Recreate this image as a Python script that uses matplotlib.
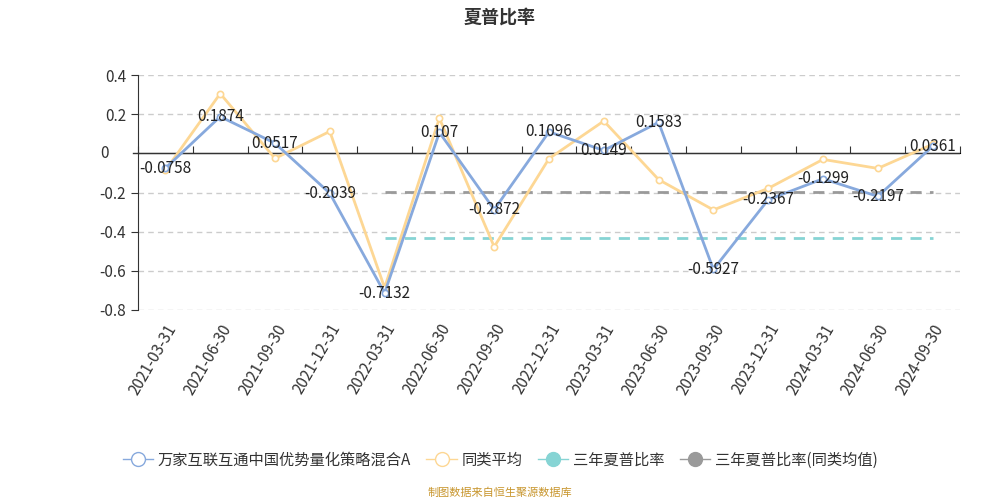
import matplotlib
matplotlib.use('Agg')
import matplotlib.pyplot as plt
from matplotlib.lines import Line2D

plt.rcParams['font.family'] = ['Noto Sans CJK SC', 'DejaVu Sans']
plt.rcParams['axes.unicode_minus'] = False

dates = ['2021-03-31', '2021-06-30', '2021-09-30', '2021-12-31', '2022-03-31',
         '2022-06-30', '2022-09-30', '2022-12-31', '2023-03-31', '2023-06-30',
         '2023-09-30', '2023-12-31', '2024-03-31', '2024-06-30', '2024-09-30']
fund = [-0.0758, 0.1874, 0.0517, -0.2039, -0.7132, 0.107, -0.2872, 0.1096,
        0.0149, 0.1583, -0.5927, -0.2367, -0.1299, -0.2197, 0.0361]
peer_avg = [-0.087, 0.305, -0.026, 0.112, -0.686, 0.179, -0.477, -0.027,
            0.165, -0.134, -0.289, -0.179, -0.031, -0.077, 0.046]
sharpe_3y = -0.432
sharpe_3y_peer = -0.196
ref_start = 4  # 2022-03-31

blue = '#87a9dd'
yellow = '#fdd794'
cyan = '#86d4d4'
gray = '#9a9a9a'

fig = plt.figure(figsize=(10, 5), dpi=100)
ax = fig.add_axes([0.138, 0.38, 0.822, 0.47])

x = list(range(len(dates)))
ax.plot(x, peer_avg, color=yellow, lw=2, marker='o', ms=4.5,
        mfc='white', mec=yellow, mew=1.2, zorder=3)
ax.plot(x, fund, color=blue, lw=2, marker='o', ms=4.5,
        mfc='white', mec=blue, mew=1.2, zorder=4)

xr = x[ref_start:]
ax.plot(xr, [sharpe_3y] * len(xr), color=cyan, lw=2, ls=(0, (4, 3)), zorder=2)
ax.plot(xr, [sharpe_3y_peer] * len(xr), color=gray, lw=2, ls=(0, (4, 3)), zorder=2)

for xi, v in zip(x, fund):
    ax.text(xi, v, f'{v:g}', ha='center', va='center', fontsize=11,
            color='#222222', zorder=5)

ax.set_xlim(-0.5, len(dates) - 0.5)
ax.set_ylim(-0.8, 0.4)
yt = [-0.8, -0.6, -0.4, -0.2, 0.2, 0.4]
ax.set_yticks(yt)
ax.set_yticklabels([f'{v:g}' for v in yt])
ax.yaxis.grid(True, ls=(0, (4, 3)), color='#cccccc', lw=1)
ax.set_axisbelow(True)
# zero label without grid line
ax.text(-0.035, 0, '0', transform=ax.get_yaxis_transform(), ha='right',
        va='center', fontsize=11, color='#333333')
ax.plot([-0.006, 0], [0, 0], transform=ax.get_yaxis_transform(),
        color='#333333', lw=1, clip_on=False)

for s in ['top', 'right', 'bottom']:
    ax.spines[s].set_visible(False)
ax.spines['left'].set_color('#333333')
ax.tick_params(axis='y', colors='#333333', labelsize=11, length=5)
ax.set_xticks(x)
ax.set_xticklabels(dates, rotation=60, ha='right', rotation_mode='anchor',
                   fontsize=11, color='#333333')
ax.tick_params(axis='x', length=0, pad=8)

# zero axis line with ticks between categories
ax.axhline(0, color='#333333', lw=1, zorder=2.5)
sec = ax.secondary_xaxis(2 / 3)
sec.set_xticks([i - 0.5 for i in range(len(dates) + 1)])
sec.set_xticklabels([])
sec.tick_params(axis='x', direction='out', length=5, color='#333333')
sec.spines['bottom'].set_visible(False)

fig.text(0.5, 0.965, '夏普比率', ha='center', va='center', fontsize=13,
         fontweight='bold', color='#333333')

handles = [
    Line2D([0], [0], color=blue, lw=1, marker='o', ms=10, mfc='white', mec=blue),
    Line2D([0], [0], color=yellow, lw=1, marker='o', ms=10, mfc='white', mec=yellow),
    Line2D([0], [0], color=cyan, lw=1, marker='o', ms=10, mfc=cyan, mec=cyan),
    Line2D([0], [0], color=gray, lw=1, marker='o', ms=10, mfc=gray, mec=gray),
]
labels = ['万家互联互通中国优势量化策略混合A', '同类平均', '三年夏普比率', '三年夏普比率(同类均值)']
fig.legend(handles, labels, loc='center', bbox_to_anchor=(0.5, 0.08), ncol=4,
           frameon=False, fontsize=11, handlelength=2.0, columnspacing=1.0,
           handletextpad=0.3, labelcolor='#333333')

fig.text(0.5, 0.014, '制图数据来自恒生聚源数据库', ha='center', va='center',
         fontsize=8, color='#c8962e')

fig.savefig('out.png', dpi=100)
